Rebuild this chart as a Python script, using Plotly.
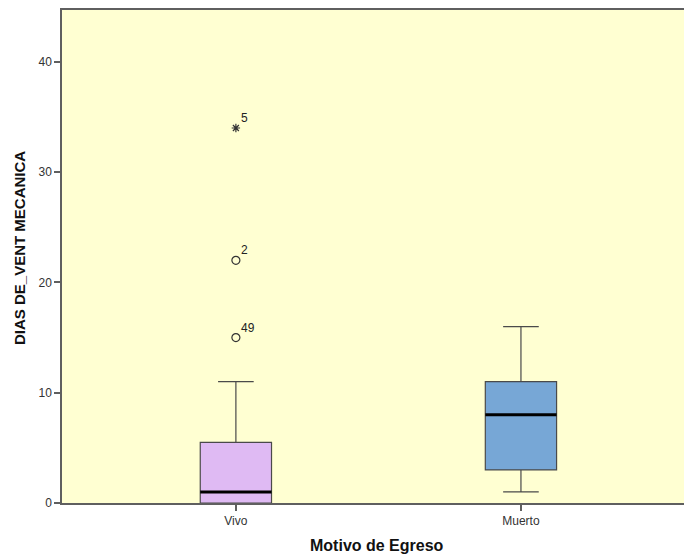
import plotly.graph_objects as go

# Summary statistics of ventilation days by discharge outcome
categories = ["Vivo", "Muerto"]
lower_whisker = [0, 1]
q1 = [0, 3]
median = [1, 8]
q3 = [5.5, 11]
upper_whisker = [11, 16]
box_colors = ["#DFBAF3", "#77A7D6"]

# Outlying cases (case number, group index, value, symbol kind)
outlier_group = [0, 0, 0]
outlier_value = [15, 22, 34]
outlier_case = ["49", "2", "5"]
outlier_kind = ["circle", "circle", "extreme"]

BOX_W = 0.25
FONT = "Liberation Sans, Arial, sans-serif"
AXIS_COLOR = "#5f5f5f"

fig = go.Figure()

for i, name in enumerate(categories):
    fig.add_trace(go.Box(
        x=[i], q1=[q1[i]], median=[median[i]], q3=[q3[i]],
        lowerfence=[lower_whisker[i]], upperfence=[upper_whisker[i]],
        width=BOX_W, whiskerwidth=0.5, fillcolor=box_colors[i],
        line=dict(color="#4a4a4a", width=1.2), boxpoints=False,
        hoverinfo="skip", showlegend=False, name=name,
    ))
    # thick median bar
    fig.add_trace(go.Scatter(
        x=[i - BOX_W / 2, i + BOX_W / 2], y=[median[i], median[i]],
        mode="lines", line=dict(color="black", width=3),
        hoverinfo="skip", showlegend=False,
    ))

symbols = {"circle": "circle-open", "extreme": "asterisk-open"}
for g, v, c, k in zip(outlier_group, outlier_value, outlier_case, outlier_kind):
    fig.add_trace(go.Scatter(
        x=[g], y=[v], mode="markers",
        marker=dict(symbol=symbols[k], size=8 if k == "circle" else 7,
                    color="#333333", line=dict(color="#333333", width=1.2)),
        hoverinfo="skip", showlegend=False,
    ))
    fig.add_annotation(
        x=g, y=v, text=c, showarrow=False, xanchor="left", yanchor="bottom",
        xshift=3, yshift=1, font=dict(family=FONT, size=12, color="#222222"),
    )

fig.add_annotation(
    text="<b>DIAS DE_VENT MECANICA</b>", xref="paper", yref="paper",
    x=(20 - 62) / 622, y=(503 - 248) / 493, xanchor="center", yanchor="middle",
    textangle=-90, showarrow=False,
    font=dict(family=FONT, size=15, color="#111111"),
)
fig.add_annotation(
    text="<b>Motivo de Egreso</b>", xref="paper", yref="paper",
    x=(377 - 62) / 622, y=0, xanchor="center", yanchor="middle", yshift=-42,
    showarrow=False, font=dict(family=FONT, size=16, color="#111111"),
)

fig.update_layout(
    width=684, height=554,
    margin=dict(l=62, r=0, t=10, b=51),
    paper_bgcolor="white", plot_bgcolor="#FFFFD2",
    font=dict(family=FONT, size=12, color="#333333"),
    showlegend=False,
)
fig.update_xaxes(
    range=[-0.61, 1.572], tickmode="array", tickvals=[0, 1], ticktext=categories,
    showgrid=False, zeroline=False, showline=True, linecolor=AXIS_COLOR,
    linewidth=1.5, mirror=True, ticks="outside", ticklen=6, tickcolor=AXIS_COLOR,
    tickwidth=1.5, tickfont=dict(size=12, color="#333333"),
)
fig.update_yaxes(
    range=[0, 44.7], tickvals=[0, 10, 20, 30, 40],
    showgrid=False, zeroline=False, showline=True, linecolor=AXIS_COLOR,
    linewidth=1.5, ticks="outside", ticklen=6, tickcolor=AXIS_COLOR,
    tickwidth=1.5, tickfont=dict(size=12, color="#333333"),
)

fig.write_html("out.html")
